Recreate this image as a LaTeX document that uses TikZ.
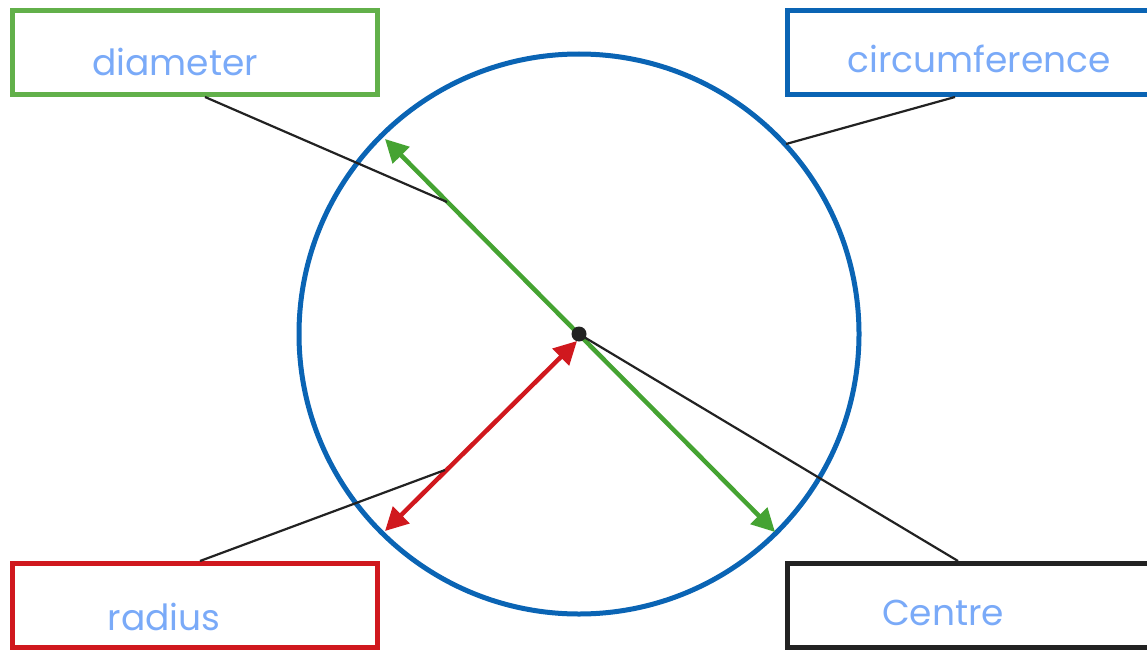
\documentclass[tikz,border=0pt]{standalone}
\usepackage{fontspec}
\setmainfont{Poppins}
\usetikzlibrary{arrows.meta,calc}
\definecolor{cblue}{HTML}{0A64B4}
\definecolor{cgreen}{HTML}{62B04A}
\definecolor{agreen}{HTML}{45A332}
\definecolor{cred}{HTML}{D0181E}
\definecolor{cblack}{HTML}{222222}
\definecolor{ink}{HTML}{7AAAF8}
\tikzset{
  labelbox/.style={draw, line width=5pt, minimum width=365pt, minimum height=84pt, inner sep=0pt},
  hand/.style={text=ink, font=\fontsize{36}{40}\selectfont, inner sep=0pt, anchor=base},
  pointer/.style={draw=cblack, line width=2.2pt},
  dbl/.style={line width=4.5pt, {Triangle[length=23pt,width=23pt]}-{Triangle[length=23pt,width=23pt]}}
}
\begin{document}
\begin{tikzpicture}[x=1pt,y=-1pt]
\useasboundingbox (0,0) rectangle (1147,650);
\clip (0,0) rectangle (1147,650);
% circle
\node[draw=cblue, line width=5pt, circle, minimum size=560pt, inner sep=0pt] (circ) at (579,334) {};
% boxes
\node[labelbox, draw=cgreen] (dbox) at (195,52.5) {};
\node[labelbox, draw=cblue] (cbox) at (970,52.5) {};
\node[labelbox, draw=cred] (rbox) at (195,605.5) {};
\node[labelbox, draw=cblack] (zbox) at (970,605.5) {};
% texts
\node[hand] (dtext) at (175,76) {diameter};
\node[hand] (ctext) at (979,73) {circumference};
\node[hand] (rtext) at (164,630) {radius};
\node[hand] (ztext) at (943,625) {Centre};
% arrows
\coordinate (g1) at (385,139);
\coordinate (g2) at (775,532);
\coordinate (r1) at (577,341);
\coordinate (r2) at (385,531);
\coordinate (ctr) at (579,334);
\draw[dbl, draw=agreen, fill=agreen] (g1) -- (g2);
\draw[dbl, draw=cred, fill=cred] (r1) -- (r2);
% pointer ends
\coordinate (dp) at (447,202);
\coordinate (cp) at (786,144);
\coordinate (rp) at (445,470);
\draw[pointer] ([xshift=10pt]dbox.south) -- (dp);
\draw[pointer] ([xshift=-15pt]cbox.south) -- (cp);
\draw[pointer] ([xshift=5pt]rbox.north) -- (rp);
\draw[pointer] ([xshift=-12pt]zbox.north) -- (ctr);
\node[circle, fill=cblack, minimum size=15pt, inner sep=0pt] (dot) at (ctr) {};
\end{tikzpicture}
\end{document}
